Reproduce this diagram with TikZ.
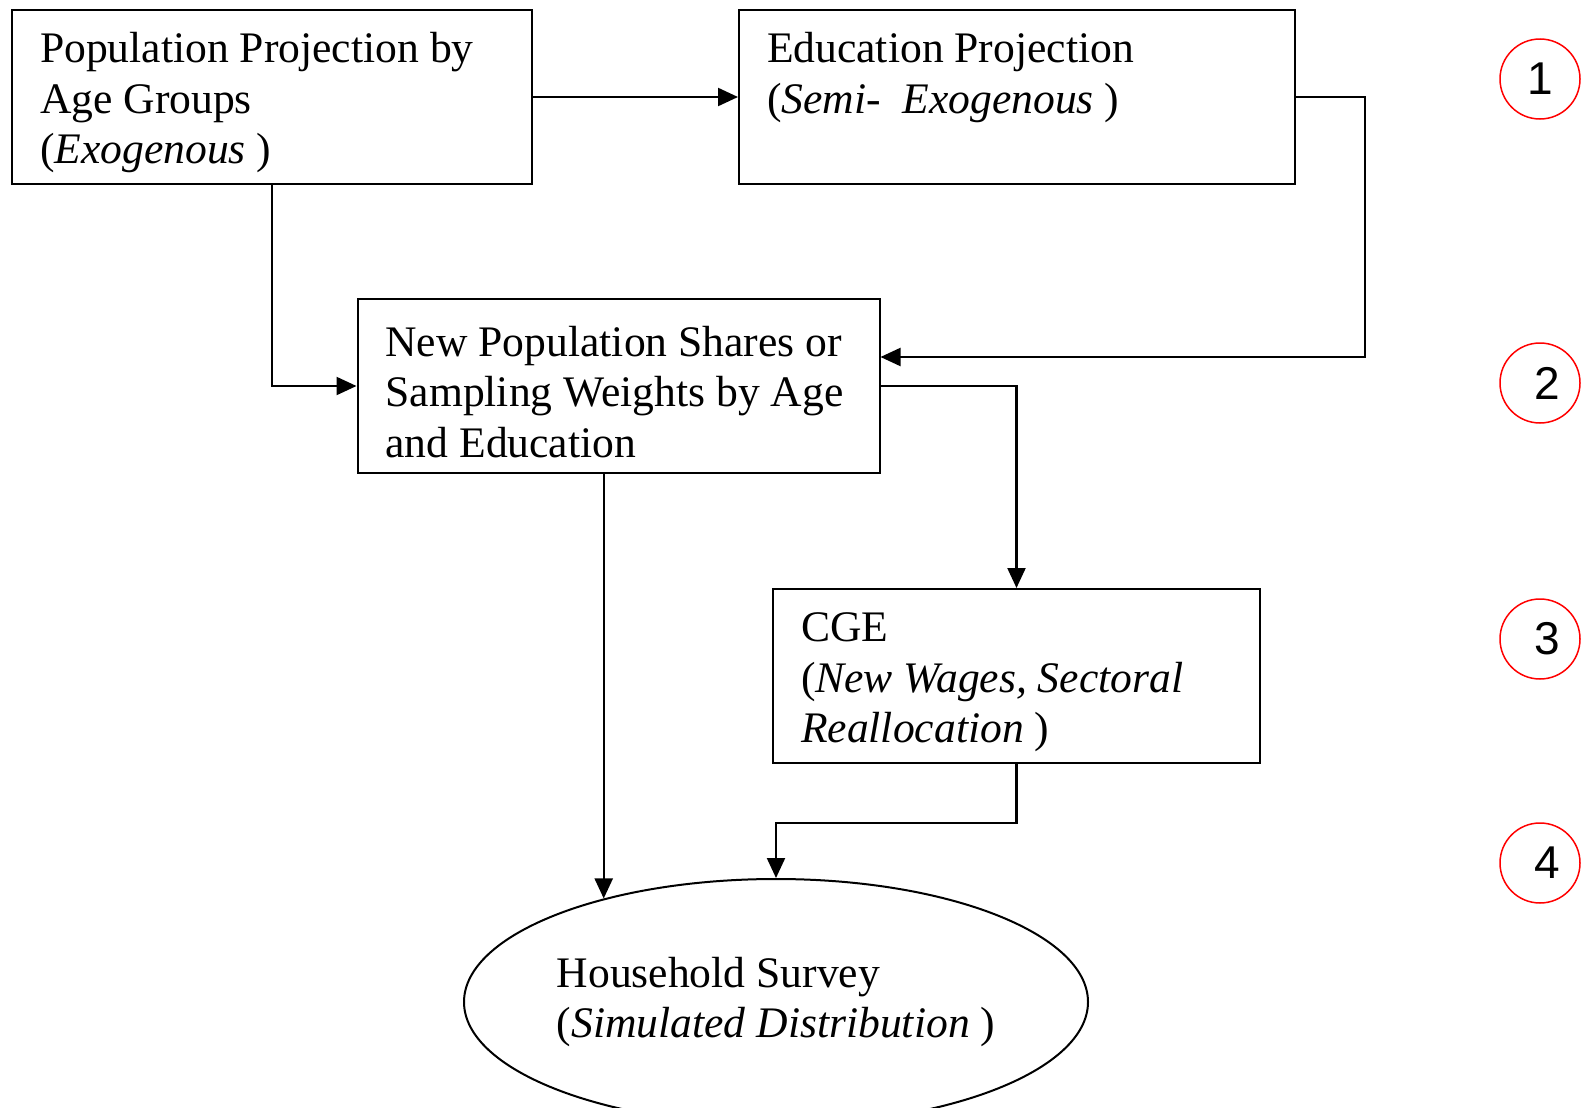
\documentclass[tikz,border=0pt]{standalone}
\usepackage{fontspec}
\setmainfont{Liberation Serif}
\newfontfamily\stagefont{Liberation Sans}
\usepackage{tikz}
\usetikzlibrary{shapes.geometric,arrows.meta,positioning}

\begin{document}
\begin{tikzpicture}[x=0.5pt,y=-0.5pt,
    every node/.style={font=\fontsize{21.8}{25.2}\selectfont},
    box/.style={rectangle,draw,line width=1pt,align=flush left,
                inner xsep=14pt,inner ysep=0pt,minimum height=87pt,
                execute at begin node={\rule{0pt}{21pt}}},
    arr/.style={line width=1.1pt,-{Triangle[length=10pt,width=9pt]}},
    stage/.style={circle,draw=red,line width=0.75pt,minimum size=40pt,
                  inner sep=0pt,font=\stagefont\fontsize{23}{23}\selectfont}]
  \useasboundingbox (0,0) rectangle (1581,1108);
  % Population projection
  \node[box,text width=232pt] at (272,97) (pop) {%
    Population Projection by\\
    Age Groups\\
    (\textit{Exogenous} )%
  };
  % Education projection
  \node[box,text width=250pt] at (1017,97) (edu) {%
    Education Projection\\
    (\textit{Semi-\ \ Exogenous} )\\
    \vphantom{(}%
  };
  % New shares / weights
  \node[box,text width=233pt] at (618.5,386) (shares) {%
    New Population Shares or\\
    Sampling Weights by Age\\
    and Education%
  };
  % CGE
  \node[box,text width=215.5pt] at (1016.5,676) (cge) {%
    CGE\\
    (\textit{New Wages, Sectoral}\\
    \textit{Reallocation} )%
  };
  % Household survey
  \node[ellipse,draw,line width=1pt,minimum width=312pt,minimum height=123pt,
        inner sep=0pt,align=flush left] at (776,1002) (hh) {%
    Household Survey\\
    (\textit{Simulated Distribution} )%
  };
  % Stages
  \node[stage] at (1540,79) (s1) {1};
  \node[stage] at (1540,383) (s2) {\hspace{7pt}2};
  \node[stage] at (1540,639) (s3) {\hspace{7pt}3};
  \node[stage] at (1540,863) (s4) {\hspace{7pt}4};
  % Connectors
  \draw[arr] (pop.east) -- (edu.west);
  \draw[arr] (pop.south) |- (shares.west);
  \draw[arr] (edu.east) -- ++(69,0) |- ([yshift=14.5pt]shares.east);
  \draw[arr] (shares.east) -| (cge.north);
  \draw[arr] (hh.149 |- shares.south) -- (hh.149);
  \draw[arr] (cge.south) -- ++(0,59) -| (hh.north);
\end{tikzpicture}
\end{document}
